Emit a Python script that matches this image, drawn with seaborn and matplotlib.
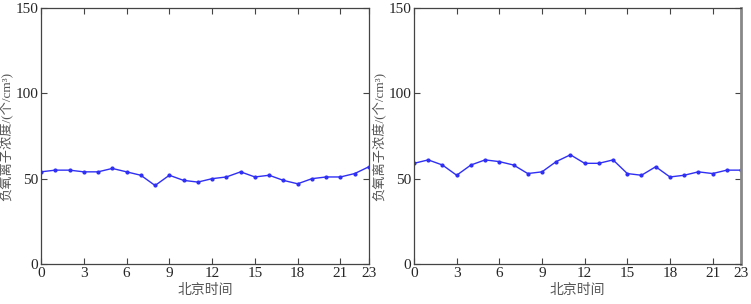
import matplotlib
matplotlib.use("Agg")
import matplotlib.pyplot as plt
import seaborn as sns
import pandas as pd
import numpy as np

# Hourly negative oxygen ion concentration (ions/cm3)
hours = list(range(24))
site_a = [54, 55, 55, 54, 54, 56, 54, 52, 46, 52, 49, 48,
          50, 51, 54, 51, 52, 49, 47, 50, 51, 51, 53, 57]
site_b = [59, 61, 58, 52, 58, 61, 60, 58, 53, 54, 60, 64,
          59, 59, 61, 53, 52, 57, 51, 52, 54, 53, 55, 55]
x_ticks = [0, 3, 6, 9, 12, 15, 18, 21, 23]
y_ticks = [0, 50, 100, 150]
x_label = "北京时间"
y_label = "负氧离子浓度/(个/cm³)"

sns.set_style("ticks")
plt.rcParams['font.family'] = ['Liberation Serif', 'Noto Sans CJK SC']

fig = plt.figure(figsize=(7.51, 3.04), dpi=100)
ax_l = fig.add_axes([0.0546, 0.1316, 0.4367, 0.842])
ax_r = fig.add_axes([0.5513, 0.1316, 0.4354, 0.842])

for ax, vals in [(ax_l, site_a), (ax_r, site_b)]:
    df = pd.DataFrame({"hour": hours, "value": vals})
    sns.lineplot(data=df, x="hour", y="value", ax=ax, color="#2f2ff5",
                 linewidth=1.0, marker="o", markersize=3,
                 markeredgewidth=0)
    ax.set_xlim(0, 23)
    ax.set_ylim(0, 150)
    ax.set_xticks(x_ticks)
    ax.set_yticks(y_ticks)
    ax.tick_params(direction="in", top=True, right=True, length=4,
                   width=0.8, color="#444444", labelsize=11, pad=2)
    ax.set_xlabel(x_label, fontsize=10, color="#555555", labelpad=3)
    ax.set_ylabel(y_label, fontsize=9.5, color="#555555", labelpad=1)
    for sp in ax.spines.values():
        sp.set_color("#444444")
        sp.set_linewidth(0.9)

ax_r.spines["right"].set_color("#888888")
ax_r.spines["right"].set_linewidth(2)

fig.savefig("out.png", dpi=100)
